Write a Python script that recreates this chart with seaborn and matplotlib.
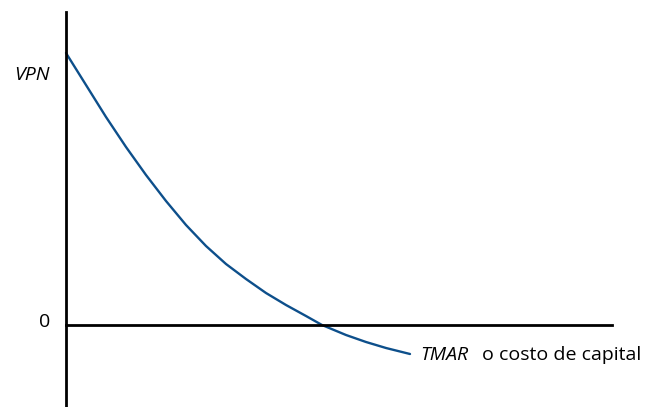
import matplotlib
matplotlib.use("Agg")
import matplotlib.pyplot as plt
import seaborn as sns
import pandas as pd

# Curve of VPN vs. discount rate (pixel-derived units)
tasa = [0, 20, 40, 60, 80, 100, 120, 140, 160, 180, 200, 220, 240, 256, 280, 300, 320, 344]
vpn = [272, 240, 208, 178, 150, 124, 100, 79, 61, 46, 32, 20, 9, 0, -10, -17, -23, -29]

y_label = "VPN"
zero_label = "0"
x_label_italic = "TMAR"
x_label_rest = "o costo de capital"

sns.set_style("white")
plt.rcParams["font.family"] = ["Open Sans", "DejaVu Sans"]

fig = plt.figure(figsize=(6.47, 4.07), dpi=100)
ax = fig.add_axes([0, 0, 1, 1])

df = pd.DataFrame({"tasa": tasa, "vpn": vpn})
sns.lineplot(data=df, x="tasa", y="vpn", ax=ax, color="#0d4f8b", linewidth=1.7,
             solid_joinstyle="round")

ax.set_xlim(-66, 581)
ax.set_ylim(-82, 325)

for s in ["top", "right"]:
    ax.spines[s].set_visible(False)
ax.spines["left"].set_position(("data", 0))
ax.spines["bottom"].set_position(("data", 0))
ax.spines["left"].set_bounds(-82, 313)
ax.spines["bottom"].set_bounds(0, 546)
for s in ["left", "bottom"]:
    ax.spines[s].set_color("black")
    ax.spines[s].set_linewidth(2.0)
ax.set_xticks([])
ax.set_yticks([])
ax.set_xlabel("")
ax.set_ylabel("")
ax.patch.set_alpha(0)

ax.text(-34, 250, y_label, fontsize=14, style="italic", ha="center", va="center", color="black")
ax.text(-21, 3, zero_label, fontsize=14, ha="center", va="center", color="black")
ax.text(354, -30, x_label_italic, fontsize=14, style="italic", ha="left", va="center", color="black")
ax.text(416, -30, x_label_rest, fontsize=14, ha="left", va="center", color="black")

fig.savefig("out.png", dpi=100, facecolor="white")
